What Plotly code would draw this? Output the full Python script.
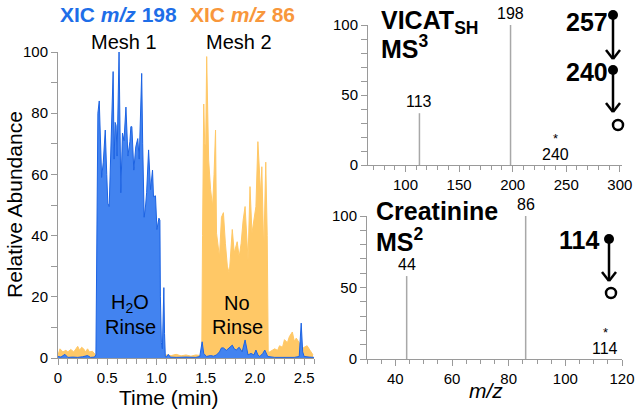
import plotly.graph_objects as go

# ---------------- data ----------------
# XIC m/z 198 (blue)
t_198 = [0.00, 0.03, 0.07, 0.10, 0.15, 0.20, 0.25, 0.30, 0.33, 0.37, 0.385, 0.392,
         0.405, 0.419, 0.43, 0.443, 0.46, 0.48, 0.495, 0.506, 0.52, 0.537, 0.55, 0.56,
         0.57, 0.58, 0.59, 0.60, 0.62, 0.63, 0.638, 0.655, 0.67, 0.69, 0.70, 0.71,
         0.73, 0.74, 0.75, 0.77, 0.79, 0.81, 0.825, 0.85, 0.86, 0.875, 0.89, 0.90,
         0.92, 0.94, 0.96, 0.97, 0.99, 1.005, 1.025, 1.035, 1.04, 1.05, 1.06, 1.068,
         1.075, 1.082, 1.09, 1.10, 1.12, 1.14, 1.20, 1.30, 1.40, 1.44, 1.455, 1.464,
         1.48, 1.507, 1.55, 1.58, 1.61, 1.64, 1.66, 1.68, 1.71, 1.74, 1.77, 1.79,
         1.81, 1.84, 1.87, 1.90, 1.93, 1.96, 1.99, 2.01, 2.03, 2.05, 2.08, 2.10,
         2.13, 2.20, 2.30, 2.40, 2.45, 2.47, 2.485, 2.50, 2.55, 2.60]
i_198 = [0.5, 0.3, 1.2, 0.2, 0.3, 0.2, 0.4, 0.8, 0.2, 0.3, 1.0, 30,
         80, 84, 68, 59, 64, 74.5, 60, 50.6, 49.5, 69, 78, 93.6,
         65, 77, 76, 66, 100, 70, 54, 73.5, 71, 82, 72, 66,
         70.7, 75.6, 75.6, 61.4, 69, 71.7, 65, 93, 70, 46, 50, 54,
         68, 55, 61.4, 52.7, 53, 42, 45.7, 45, 20, 5, 3, 12,
         23, 8, 0.5, 0.3, 1.2, 0.3, 0.2, 0.3, 0.2, 0.5, 3, 5.3,
         1.5, 0.5, 0.8, 0.6, 1.0, 2.0, 3.3, 3.3, 2.5, 3.5, 4.2, 3.0,
         2.6, 3.5, 2.0, 5.9, 1.0, 1.5, 1.0, 2.6, 1.0, 0.5, 1.5, 2.6,
         0.5, 0.2, 0.3, 0.2, 0.5, 11.4, 2.0, 0.5, 0.3, 0.2]

# XIC m/z 86 (orange)
t_86 = [0.00, 0.02, 0.05, 0.08, 0.10, 0.13, 0.16, 0.18, 0.20, 0.22, 0.24, 0.26,
        0.28, 0.30, 0.32, 0.35, 0.38, 0.40, 0.70, 1.04, 1.06, 1.10, 1.15, 1.20,
        1.25, 1.30, 1.35, 1.40, 1.45, 1.46, 1.468, 1.48, 1.49, 1.50, 1.51, 1.52,
        1.53, 1.55, 1.57, 1.585, 1.60, 1.61, 1.64, 1.66, 1.68, 1.70, 1.72, 1.74,
        1.77, 1.79, 1.82, 1.84, 1.86, 1.88, 1.90, 1.93, 1.95, 1.97, 1.99, 2.01,
        2.03, 2.06, 2.07, 2.09, 2.11, 2.125, 2.135, 2.15, 2.20, 2.23, 2.25, 2.28,
        2.30, 2.33, 2.35, 2.38, 2.40, 2.42, 2.45, 2.48, 2.50, 2.53, 2.56, 2.59]
i_86 = [1.0, 3.0, 2.0, 2.5, 2.0, 2.8, 2.0, 3.0, 3.8, 2.5, 3.5, 3.0,
        2.0, 3.0, 2.0, 2.2, 1.0, 0.3, 0.3, 0.3, 0.8, 1.0, 0.8, 1.2,
        0.7, 1.0, 0.6, 1.0, 0.8, 1.0, 40, 83, 70, 69, 98.5, 72,
        64.7, 55, 49.5, 60, 74.5, 40.8, 33, 46, 47.5, 37.5, 30, 27.7,
        42, 34.4, 38, 33, 37.5, 45, 49.5, 32, 56, 40.8, 46, 49.5,
        70.7, 52.7, 62.5, 34.4, 64, 40, 2.0, 2.0, 3.0, 2.5, 4.0, 3.5,
        6.0, 5.0, 7.0, 8.5, 5.5, 6.5, 5.0, 3.0, 3.5, 4.0, 2.5, 1.0]

# MS3 spectrum of VICAT-SH (precursor 240)
mz_vicat = [113, 198]
int_vicat = [37, 100]
prec_vicat = 240

# MS2 spectrum of creatinine (precursor 114)
mz_creat = [44, 86]
int_creat = [58, 100]
prec_creat = 114

# tick labels
time_ticks = [0, 0.5, 1.0, 1.5, 2.0, 2.5]
time_ticktext = ["0", "0.5", "1.0", "1.5", "2.0", "2.5"]
ra_ticks = [0, 20, 40, 60, 80, 100]
spec_yticks = [0, 50, 100]
vicat_xticks = [100, 150, 200, 250, 300]
creat_xticks = [40, 60, 80, 100, 120]

# ---------------- styling helpers ----------------
W, H = 637, 413
FONT = "Liberation Sans, Arial, Helvetica, sans-serif"
BLUE_FILL = "#4283F0"
BLUE_LINE = "#1C63E3"
ORANGE_FILL = "#FFC866"
BLUE_TXT = "#1E6EE8"
ORANGE_TXT = "#F8973C"
AX = "#9A9A9A"
STICK = "#A8A8A8"


def px(x):
    return x / W


def py(y):
    return 1 - y / H


def sticks(mz, inten):
    xs, ys = [], []
    for m, v in zip(mz, inten):
        xs += [m, m, None]
        ys += [0, v, None]
    return xs, ys


fig = go.Figure()

fig.add_trace(go.Scatter(x=t_86, y=i_86, mode="lines", fill="tozeroy",
                         line=dict(color=ORANGE_FILL, width=1), fillcolor=ORANGE_FILL,
                         xaxis="x", yaxis="y", hoverinfo="skip"))
fig.add_trace(go.Scatter(x=t_198, y=i_198, mode="lines", fill="tozeroy",
                         line=dict(color=BLUE_LINE, width=1), fillcolor=BLUE_FILL,
                         xaxis="x", yaxis="y", hoverinfo="skip"))

sx, sy = sticks(mz_vicat, int_vicat)
fig.add_trace(go.Scatter(x=sx, y=sy, mode="lines", line=dict(color=STICK, width=1.5),
                         xaxis="x2", yaxis="y2", hoverinfo="skip"))
sx, sy = sticks(mz_creat, int_creat)
fig.add_trace(go.Scatter(x=sx, y=sy, mode="lines", line=dict(color=STICK, width=1.5),
                         xaxis="x3", yaxis="y3", hoverinfo="skip"))

common = dict(showline=True, linecolor=AX, linewidth=1, ticks="outside", tickcolor=AX,
              ticklen=6, tickwidth=1, showgrid=False, zeroline=False, automargin=False,
              tickfont=dict(family=FONT, size=15, color="black"), fixedrange=True)

fig.update_layout(
    template="none",
    width=W, height=H, margin=dict(l=0, r=0, t=0, b=0, autoexpand=False),
    paper_bgcolor="white", plot_bgcolor="white", showlegend=False,
    xaxis=dict(domain=[px(58), px(314)], range=[0, 2.6], tickvals=time_ticks,
               ticktext=time_ticktext, anchor="y",
               minor=dict(dtick=0.1, ticks="outside", ticklen=5, tickcolor=AX), **common),
    yaxis=dict(domain=[py(358), py(52)], range=[0, 100], tickvals=ra_ticks, anchor="x",
               minor=dict(dtick=10, ticks="outside", ticklen=6, tickcolor=AX), **common),
    xaxis2=dict(domain=[px(368), px(622)], range=[65, 302], tickvals=vicat_xticks, anchor="y2",
                minor=dict(dtick=10, tick0=0, ticks="outside", ticklen=4, tickcolor=AX), **common),
    yaxis2=dict(domain=[py(165), py(25)], range=[0, 100], tickvals=spec_yticks, anchor="x2",
                minor=dict(dtick=10, ticks="outside", ticklen=6, tickcolor=AX), **common),
    xaxis3=dict(domain=[px(367), px(622)], range=[30, 120], tickvals=creat_xticks, anchor="y3",
                minor=dict(dtick=5, tick0=0, ticks="outside", ticklen=4, tickcolor=AX), **common),
    yaxis3=dict(domain=[py(359), py(216)], range=[0, 100], tickvals=spec_yticks, anchor="x3",
                minor=dict(dtick=10, ticks="outside", ticklen=6, tickcolor=AX), **common),
)

ann = []


def A(x, y, text, size=20, color="black", **kw):
    d = dict(x=px(x), y=py(y), xref="paper", yref="paper", text=text, showarrow=False,
             font=dict(family=FONT, size=size, color=color), xanchor="center", yanchor="middle")
    d.update(kw)
    ann.append(d)


# left panel texts
A(118, 14, "<b>XIC <i>m/z</i> 198</b>", 21, BLUE_TXT)
A(242, 14, "<b>XIC <i>m/z</i> 86</b>", 21, ORANGE_TXT)
A(124, 42, "Mesh 1", 20)
A(239, 42, "Mesh 2", 20)
A(130, 303, "H<sub>2</sub>O", 20)
A(130, 327, "Rinse", 20)
A(237, 303, "No", 20)
A(237, 327, "Rinse", 20)
A(14, 205, "Relative Abundance", 21, textangle=-90)
A(169, 397, "Time (min)", 21)
A(486, 390, "<i>m/z</i>", 21)

# right top texts
A(379, 22, "<b>VICAT<sub>SH</sub></b>", 25, xanchor="left")
A(379, 47, "<b>MS<sup>3</sup></b>", 25, xanchor="left")
A(610, 22, "<b>257</b>", 25, xanchor="right")
A(610, 72, "<b>240</b>", 25, xanchor="right")
# right bottom texts
A(374, 211, "<b>Creatinine</b>", 25, xanchor="left")
A(374, 240, "<b>MS<sup>2</sup></b>", 25, xanchor="left")
A(601, 240, "<b>114</b>", 25, xanchor="right")

fig.update_layout(annotations=ann)

# peak labels in data coordinates
for m, v in zip(mz_vicat, int_vicat):
    fig.add_annotation(x=m, y=v, xref="x2", yref="y2", text=str(m), showarrow=False,
                       yanchor="bottom", yshift=1, font=dict(family=FONT, size=16, color="black"))
for m, v in zip(mz_creat, int_creat):
    fig.add_annotation(x=m, y=v, xref="x3", yref="y3", text=str(m), showarrow=False,
                       yanchor="bottom", yshift=1, font=dict(family=FONT, size=16, color="black"))
for p, xr, yr in [(prec_vicat, "x2", "y2"), (prec_creat, "x3", "y3")]:
    fig.add_annotation(x=p, y=0, xref=xr, yref=yr, text=str(p), showarrow=False,
                       yanchor="bottom", yshift=0, font=dict(family=FONT, size=16, color="black"))
    fig.add_annotation(x=p, y=0, xref=xr, yref=yr, text="*", showarrow=False,
                       yanchor="bottom", yshift=17, font=dict(family=FONT, size=13, color="black"))

# fragmentation diagrams
shapes = []


def line(x0, y0, x1, y1):
    shapes.append(dict(type="line", xref="paper", yref="paper", x0=px(x0), y0=py(y0),
                       x1=px(x1), y1=py(y1), line=dict(color="black", width=2.5)))


def dot(x, y, r=5, filled=True):
    shapes.append(dict(type="circle", xref="paper", yref="paper", x0=px(x - r), x1=px(x + r),
                       y0=py(y + r), y1=py(y - r),
                       fillcolor="black" if filled else "white",
                       line=dict(color="black", width=0 if filled else 2.5)))


def arrow(x, y0, y1):
    line(x, y0, x, y1)
    line(x - 7, y1 - 9, x, y1)
    line(x + 7, y1 - 9, x, y1)


arrow(613, 16, 59)
arrow(613, 70, 112)
dot(613, 15)
dot(613, 70)
dot(618, 125, 5, False)

arrow(609, 240, 281)
dot(609, 239)
dot(611, 293, 5, False)

fig.update_layout(shapes=shapes)

fig.write_html("out.html", config={"displayModeBar": False, "staticPlot": True},
               post_script="document.body.style.margin='0';document.body.style.overflow='hidden';")
